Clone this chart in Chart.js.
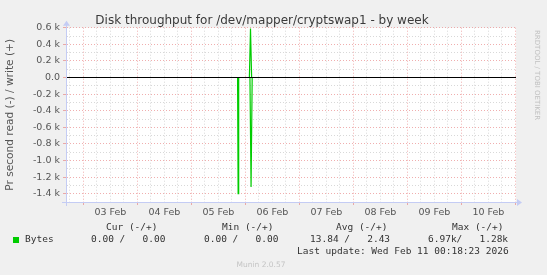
<!DOCTYPE html>
<html>
<head>
<meta charset="utf-8">
<script src="https://cdn.jsdelivr.net/npm/chart.js@4/dist/chart.umd.min.js"></script>
<style>
  html, body { margin: 0; padding: 0; background: #f0f0f0; }
  #wrap { position: relative; width: 547px; height: 275px; }
  canvas { display: block; }
</style>
</head>
<body>
<div id="wrap"><canvas id="c" width="547" height="275"></canvas></div>
<script>
// ---- Data (hours since 02 Feb 00:00) ----
const xMinHour = 16.25;
const xMaxHour = 216.25;
const readTimes  = [16.25, 92.5, 92.75, 93.0, 98.0, 98.5, 99.0, 216.25];
const readValues = [0,     0,    1400,  0,    0,    1320, 0,    0];      // bytes/s, drawn negative
const writeTimes  = [16.25, 97.75, 98.25, 98.75, 216.25];
const writeValues = [0,     0,     590,   0,     0];                     // bytes/s, drawn positive
const yTickValues = [-1500,-1400,-1300,-1200,-1100,-1000,-900,-800,-700,-600,-500,-400,-300,-200,-100,0,100,200,300,400,500,600];
const dayLabels = ['02 Feb','03 Feb','04 Feb','05 Feb','06 Feb','07 Feb','08 Feb','09 Feb','10 Feb','11 Feb'];
const titleText = 'Disk throughput for /dev/mapper/cryptswap1 - by week';
const yTitle = 'Pr second read (-) / write (+)';
const legendHeader = ['Cur (-/+)', 'Min (-/+)', 'Avg (-/+)', 'Max (-/+)'];
const legendName = 'Bytes';
const legendValues = ['0.00 /   0.00', '0.00 /   0.00', '13.84 /   2.43', '6.97k/   1.28k'];
const lastUpdate = 'Last update: Wed Feb 11 00:18:23 2026';
const footerText = 'Munin 2.0.57';
const sideText = 'RRDTOOL / TOBI OETIKER';

const GREEN = '#00cc00';
const MAJOR = 'rgba(230,120,120,0.6)';
const MINOR = 'rgba(200,200,200,0.7)';
const AXIS = '#c4ccf4';

const readData = readTimes.map((t, i) => ({x: t, y: -readValues[i]}));
const writeData = writeTimes.map((t, i) => ({x: t, y: writeValues[i]}));
const zeroData = [{x: xMinHour, y: 0}, {x: xMaxHour, y: 0}];

const xTicks = [];
for (let h = Math.ceil(xMinHour / 6) * 6; h <= xMaxHour; h += 6) xTicks.push(h);

const decor = {
  id: 'decor',
  beforeDraw(chart) {
    const {ctx, chartArea: a} = chart;
    ctx.save();
    ctx.fillStyle = '#ffffff';
    ctx.fillRect(a.left, a.top, a.right - a.left, a.bottom - a.top);
    ctx.restore();
  },
  afterDraw(chart) {
    const {ctx, chartArea: a} = chart;
    ctx.save();
    // axis extensions + arrows
    ctx.strokeStyle = AXIS; ctx.fillStyle = AXIS; ctx.lineWidth = 1;
    ctx.beginPath();
    ctx.moveTo(a.left - 4, a.bottom + 0.5); ctx.lineTo(a.right + 2, a.bottom + 0.5);
    ctx.moveTo(a.left + 0.5, a.bottom + 4); ctx.lineTo(a.left + 0.5, a.top - 3);
    ctx.stroke();
    ctx.beginPath();
    ctx.moveTo(a.right + 6, a.bottom + 0.5); ctx.lineTo(a.right + 1, a.bottom - 3); ctx.lineTo(a.right + 1, a.bottom + 4); ctx.closePath(); ctx.fill();
    ctx.beginPath();
    ctx.moveTo(a.left + 0.5, a.top - 7); ctx.lineTo(a.left - 3, a.top - 2); ctx.lineTo(a.left + 4, a.top - 2); ctx.closePath(); ctx.fill();

    // title
    ctx.fillStyle = '#3a3a3a';
    ctx.font = '12px "DejaVu Sans"';
    ctx.textAlign = 'center'; ctx.textBaseline = 'alphabetic';
    ctx.fillText(titleText, 262, 24);

    // side text
    ctx.save();
    ctx.translate(536.5, 30);
    ctx.rotate(Math.PI / 2);
    ctx.font = '7px "DejaVu Sans"';
    ctx.fillStyle = '#c0c0c0';
    ctx.textAlign = 'left'; ctx.textBaseline = 'middle';
    ctx.fillText(sideText, 0, 0);
    ctx.restore();

    // legend table
    ctx.font = '9.5px "DejaVu Sans Mono"';
    ctx.fillStyle = '#333333';
    ctx.textAlign = 'left'; ctx.textBaseline = 'middle';
    const hx = [106, 222, 336, 452];
    legendHeader.forEach((s, i) => ctx.fillText(s, hx[i], 228));
    ctx.fillStyle = GREEN;
    ctx.fillRect(13, 237, 6, 6);
    ctx.fillStyle = '#333333';
    ctx.fillText(legendName, 25, 240);
    const vx = [91, 204, 310, 428];
    legendValues.forEach((s, i) => ctx.fillText(s, vx[i], 240));
    ctx.fillText(lastUpdate, 297, 252);

    ctx.font = '7.5px "DejaVu Sans"';
    ctx.fillStyle = '#c4c4c4';
    ctx.textAlign = 'center';
    ctx.fillText(footerText, 261, 265);
    ctx.restore();
  }
};

const gridDash = [1, 2];

new Chart(document.getElementById('c'), {
  type: 'line',
  data: {
    datasets: [
      { label: 'read', data: readData, borderColor: GREEN, borderWidth: 1.2, pointRadius: 0, tension: 0, order: 1 },
      { label: 'write', data: writeData, borderColor: GREEN, borderWidth: 1.2, pointRadius: 0, tension: 0, order: 2 },
      { label: 'zero', data: zeroData, borderColor: '#000000', borderWidth: 1.2, pointRadius: 0, order: -1 }
    ]
  },
  options: {
    responsive: false,
    animation: false,
    events: [],
    layout: { padding: { left: 0, right: 31, top: 27.7, bottom: 53 } },
    plugins: { legend: { display: false }, tooltip: { enabled: false }, title: { display: false } },
    scales: {
      x: {
        type: 'linear',
        min: xMinHour, max: xMaxHour,
        afterBuildTicks: axis => { axis.ticks = xTicks.map(v => ({value: v})); },
        afterFit: axis => { axis.height = 20; },
        ticks: {
          autoSkip: false, maxRotation: 0, minRotation: 0, padding: 2,
          color: '#555555', font: { family: 'DejaVu Sans', size: 9.5 },
          callback: v => (v % 24 === 12 ? dayLabels[Math.floor(v / 24)] : '')
        },
        grid: {
          color: ctx => (ctx.tick && ctx.tick.value % 24 === 0 ? MAJOR : MINOR),
          lineWidth: 1,
          drawTicks: true, tickLength: 3,
          tickColor: ctx => (ctx.tick && ctx.tick.value % 24 === 0 ? MAJOR : 'rgba(0,0,0,0)')
        },
        border: { display: true, color: AXIS, width: 1, dash: gridDash }
      },
      y: {
        type: 'linear',
        min: -1500, max: 600,
        afterBuildTicks: axis => { axis.ticks = yTickValues.map(v => ({value: v})); },
        afterFit: axis => { axis.width = 66; },
        ticks: {
          autoSkip: false, padding: 3,
          color: '#555555', font: { family: 'DejaVu Sans', size: 9.5 },
          callback: v => (v % 200 !== 0 ? '' : (v === 0 ? '0.0' : (v / 1000).toFixed(1) + ' k'))
        },
        grid: {
          color: ctx => (ctx.tick && ctx.tick.value % 200 === 0 ? MAJOR : MINOR),
          lineWidth: 1,
          drawTicks: true, tickLength: 3,
          tickColor: ctx => (ctx.tick && ctx.tick.value % 200 === 0 ? MAJOR : 'rgba(0,0,0,0)')
        },
        border: { display: true, color: AXIS, width: 1, dash: gridDash },
        title: {
          display: true, text: yTitle, color: '#555555',
          font: { family: 'DejaVu Sans', size: 10.6 }, padding: { top: 4, bottom: 0 }
        }
      }
    }
  },
  plugins: [decor]
});
</script>
</body>
</html>
